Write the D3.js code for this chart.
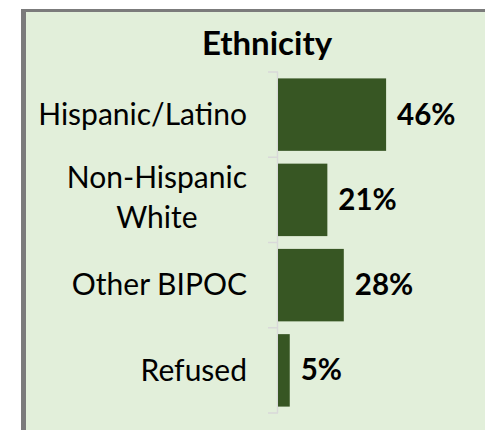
<!DOCTYPE html>
<html>
<head>
<meta charset="utf-8">
<script src="https://cdn.jsdelivr.net/npm/d3@7"></script>
<style>
  html, body { margin: 0; padding: 0; background: #fff; }
  svg { display: block; font-family: Lato, "Open Sans", sans-serif; }
</style>
</head>
<body>
<svg id="chart"></svg>
<script>
const title = 'Ethnicity'
const categories = ['Hispanic/Latino', 'Non-Hispanic White', 'Other BIPOC', 'Refused']
const labelLines = [['Hispanic/Latino'], ['Non-Hispanic', 'White'], ['Other BIPOC'], ['Refused']]
const values = [46, 21, 28, 5]

const width = 485
const height = 430

const svg = d3.select('#chart').attr('width', width).attr('height', height)

// panel with gray frame (only top/left visible)
svg.append('rect').attr('x', 21).attr('y', 9).attr('width', width).attr('height', height)
  .attr('fill', '#7b7b7b')
svg.append('rect').attr('x', 26).attr('y', 12).attr('width', width).attr('height', height)
  .attr('fill', '#e2efda')

// title
svg.append('text')
  .attr('x', 267).attr('y', 55)
  .attr('text-anchor', 'middle')
  .attr('font-weight', 'bold')
  .attr('font-size', 33)
  .attr('fill', '#000')
  .text(title)

const x = d3.scaleLinear().domain([0, 100]).range([278, 278 + 235])
const y = d3.scaleBand().domain(categories).range([72, 413]).paddingInner(0.15).paddingOuter(0.075)

// axis line with ticks at band boundaries
const axisG = svg.append('g')
axisG.append('line')
  .attr('x1', x(0) - 0.5).attr('x2', x(0) - 0.5)
  .attr('y1', y.range()[0]).attr('y2', y.range()[1])
  .attr('stroke', '#d9d9d9').attr('stroke-width', 1.5)
const bounds = d3.range(categories.length + 1).map(i => y.range()[0] + i * (y.range()[1] - y.range()[0]) / categories.length)
axisG.selectAll('.tick').data(bounds).join('line')
  .attr('x1', x(0) - 10).attr('x2', x(0))
  .attr('y1', d => d).attr('y2', d => d)
  .attr('stroke', '#d9d9d9').attr('stroke-width', 1.5)

// bars
svg.selectAll('.bar').data(categories).join('rect')
  .attr('class', 'bar')
  .attr('x', x(0))
  .attr('y', d => y(d))
  .attr('width', (d, i) => x(values[i]) - x(0))
  .attr('height', y.bandwidth())
  .attr('fill', '#375623')

// value labels
svg.selectAll('.val').data(categories).join('text')
  .attr('class', 'val')
  .attr('x', (d, i) => x(values[i]) + 11)
  .attr('y', d => y(d) + y.bandwidth() / 2)
  .attr('dy', '0.34em')
  .attr('font-weight', 'bold')
  .attr('font-size', 29.5)
  .attr('fill', '#000')
  .text((d, i) => values[i] + '%')

// category labels, right aligned block, multi-line centred within block
const labelRight = 247
const lineH = 40
categories.forEach((c, i) => {
  const lines = labelLines[i]
  const t = svg.append('text')
    .attr('font-size', 30)
    .attr('fill', '#000')
  const cy = y(c) + y.bandwidth() / 2 - (lines.length > 1 ? 2.5 : 0)
  const spans = lines.map((ln, j) => t.append('tspan')
    .attr('y', cy + (j - (lines.length - 1) / 2) * lineH)
    .attr('dy', '0.34em')
    .text(ln))
  const maxW = d3.max(spans, s => s.node().getComputedTextLength())
  if (lines.length === 1) {
    t.attr('text-anchor', 'end')
    spans.forEach(s => s.attr('x', labelRight))
  } else {
    t.attr('text-anchor', 'middle')
    spans.forEach(s => s.attr('x', labelRight - maxW / 2))
  }
})
</script>
</body>
</html>
